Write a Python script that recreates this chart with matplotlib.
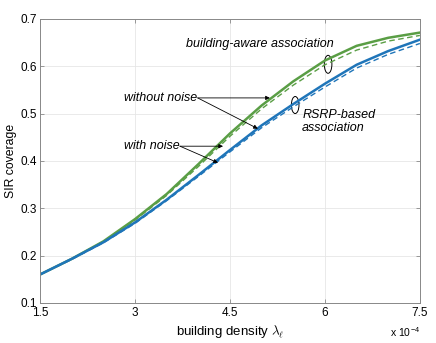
import matplotlib.pyplot as plt
from matplotlib.patches import Ellipse

# building density (x 1e-4)
density = [1.5, 2.0, 2.5, 3.0, 3.5, 4.0, 4.5, 5.0, 5.5, 6.0, 6.5, 7.0, 7.5]

# building-aware association
aware_no_noise = [0.160, 0.193, 0.230, 0.277, 0.330, 0.393, 0.458, 0.517, 0.568, 0.612, 0.643, 0.660, 0.671]
aware_noise = [0.160, 0.193, 0.229, 0.275, 0.327, 0.388, 0.452, 0.510, 0.560, 0.603, 0.634, 0.653, 0.665]

# RSRP-based association
rsrp_no_noise = [0.160, 0.193, 0.228, 0.270, 0.318, 0.370, 0.423, 0.475, 0.520, 0.563, 0.603, 0.632, 0.656]
rsrp_noise = [0.160, 0.192, 0.227, 0.268, 0.316, 0.367, 0.419, 0.470, 0.514, 0.556, 0.596, 0.625, 0.648]

green = '#5a9e45'
blue = '#1f75b9'

plt.rcParams['font.family'] = ['Liberation Sans', 'DejaVu Sans']
plt.rcParams['mathtext.fontset'] = 'cm'

fig = plt.figure(figsize=(4.36, 3.43), dpi=100)
ax = fig.add_axes([0.092, 0.117, 0.871, 0.828])

ax.plot(density, aware_no_noise, color=green, lw=1.8)
ax.plot(density, aware_noise, color=green, lw=1.0, ls=(0, (4, 2.5)))
ax.plot(density, rsrp_no_noise, color=blue, lw=1.8)
ax.plot(density, rsrp_noise, color=blue, lw=1.0, ls=(0, (4, 2.5)))

ax.set_xlim(1.5, 7.5)
ax.set_ylim(0.1, 0.7)
ax.set_xticks([1.5, 3, 4.5, 6, 7.5])
ax.set_xticklabels(['1.5', '3', '4.5', '6', '7.5'])
ax.set_yticks([0.1, 0.2, 0.3, 0.4, 0.5, 0.6, 0.7])
ax.grid(True, color='#e6e6e6', lw=0.6)
ax.set_axisbelow(True)
for s in ax.spines.values():
    s.set_color('#888888')
    s.set_linewidth(0.7)
ax.tick_params(direction='in', length=3, width=0.6, color='#888888', labelsize=8.5,
               pad=2, top=True, right=True)
ax.tick_params(axis='x', pad=3)

ax.set_xlabel(r'building density $\lambda_\ell$', fontsize=9.5, labelpad=3)
ax.set_ylabel('SIR coverage', fontsize=8.8, labelpad=3)
ax.text(1.0, -0.104, r'x 10$^{\mathregular{-4}}$', transform=ax.transAxes, ha='right',
        va='center', fontsize=7.5)

# annotations
ax.add_patch(Ellipse((6.05, 0.604), 0.12, 0.038, fill=False, lw=0.7, color='black'))
ax.add_patch(Ellipse((5.53, 0.518), 0.12, 0.036, fill=False, lw=0.7, color='black'))
ax.text(4.97, 0.646, 'building-aware association', style='italic', fontsize=9,
        ha='center', va='center')
ax.text(5.64, 0.483, 'RSRP-based\nassociation', style='italic', fontsize=9, ha='left',
        va='center', linespacing=1.05)

arr = dict(arrowstyle='-|>', color='black', lw=0.6, mutation_scale=6, shrinkA=0, shrinkB=0)
ax.annotate('', xy=(5.13, 0.533), xytext=(3.99, 0.533), arrowprops=arr)
ax.annotate('', xy=(4.94, 0.468), xytext=(3.99, 0.533), arrowprops=arr)
ax.text(3.98, 0.533, 'without noise', style='italic', fontsize=9, ha='right', va='center')
ax.annotate('', xy=(4.39, 0.431), xytext=(3.71, 0.431), arrowprops=arr)
ax.annotate('', xy=(4.31, 0.396), xytext=(3.71, 0.431), arrowprops=arr)
ax.text(3.70, 0.431, 'with noise', style='italic', fontsize=9, ha='right', va='center')

fig.savefig('out.png', dpi=100)
